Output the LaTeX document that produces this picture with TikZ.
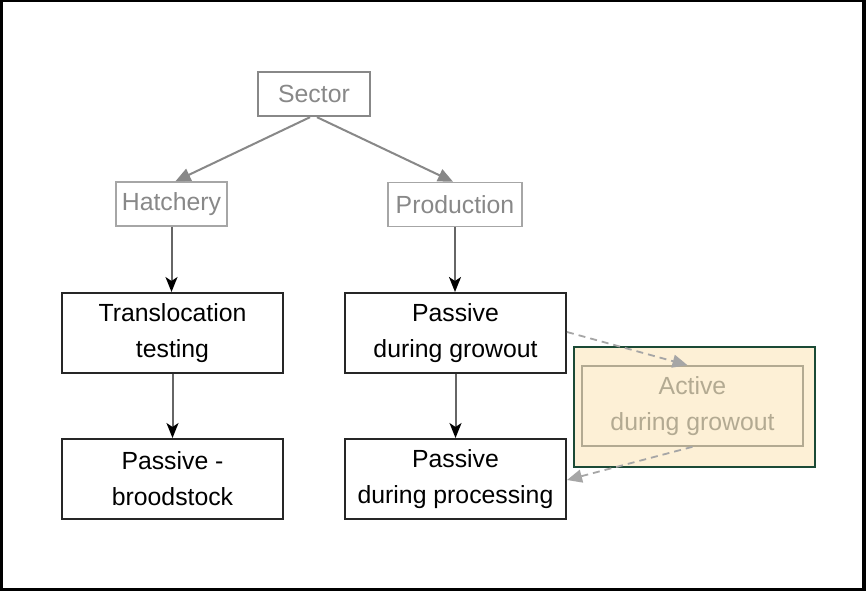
\documentclass[tikz,border=0pt]{standalone}
\usepackage{fontspec}
\setmainfont{Liberation Sans}
\usetikzlibrary{arrows.meta}
\definecolor{lgray}{HTML}{888888}
\definecolor{hgray}{HTML}{A6A6A6}
\definecolor{cream}{HTML}{FDF0D6}
\definecolor{dgreen}{HTML}{1B4A36}
\definecolor{tan}{HTML}{B3AA92}
\begin{document}
\begin{tikzpicture}[x=1pt,y=-1pt,
  lbl/.style={font=\fontsize{24.8}{36}\selectfont},
  topbox/.style={lbl, draw=lgray, line width=2.4pt, text=lgray, minimum width=112pt, minimum height=44pt, inner sep=0pt},
  midbox/.style={lbl, draw=hgray, line width=1.6pt, text=lgray, minimum height=44pt, inner sep=0pt},
  mainbox/.style={lbl, draw=black!85, line width=2pt, text=black, minimum width=221pt, minimum height=80pt, inner sep=0pt, align=center},
  grayarrow/.style={draw=lgray, line width=2pt, -{Triangle[length=15pt,width=13pt]}},
  blackarrow/.style={draw=black!60, line width=2pt, arrows={-{Stealth[length=15pt,width=12pt,inset=4pt,color=black]}}},
  dasharrow/.style={draw=hgray, line width=1.8pt, dash pattern=on 7pt off 5pt, -{Triangle[length=15pt,width=13pt]}}
]
\fill[black] (0,0) rectangle (866,591);
\fill[white] (2.5,2.5) rectangle (862,588);
\useasboundingbox (0,0) rectangle (866,591);

\node[topbox] (sector) at (314,94) {Sector};
\node[midbox, minimum width=111pt] (hatch) at (171.5,204) {Hatchery};
\node[midbox, minimum width=134pt] (prod) at (455,204.5) {Production};

\node[mainbox] (trans) at (172.5,333) {Translocation\\testing};
\node[mainbox] (grow) at (455.5,333) {Passive\\during growout};
\node[mainbox] (brood) at (172.5,479) {Passive -\\broodstock};
\node[mainbox] (proc) at (455.5,479) {Passive\\during processing};

\node[fill=cream, draw=dgreen, line width=2.4pt, minimum width=241pt, minimum height=120pt, inner sep=0pt] (hl) at (694.5,407) {};
\node[lbl, draw=tan, line width=1.6pt, text=tan, minimum width=221pt, minimum height=80pt, inner sep=0pt, align=center] (active) at (692.5,406) {Active\\during growout};

\draw[grayarrow] ([xshift=-4pt]sector.south) -- ([xshift=4pt]hatch.north);
\draw[grayarrow] ([xshift=3pt]sector.south) -- ([xshift=-2pt]prod.north);

\draw[blackarrow] (hatch.south) -- (hatch.south |- trans.north);
\draw[blackarrow] (prod.south) -- (prod.south |- grow.north);
\draw[blackarrow] (trans.south) -- (brood.north);
\draw[blackarrow] (grow.south) -- (proc.north);

\draw[dasharrow] ([yshift=1pt]grow.east) -- ([xshift=-5pt]active.north);
\draw[dasharrow] (active.south) -- ([yshift=-1pt]proc.east);
\end{tikzpicture}
\end{document}
